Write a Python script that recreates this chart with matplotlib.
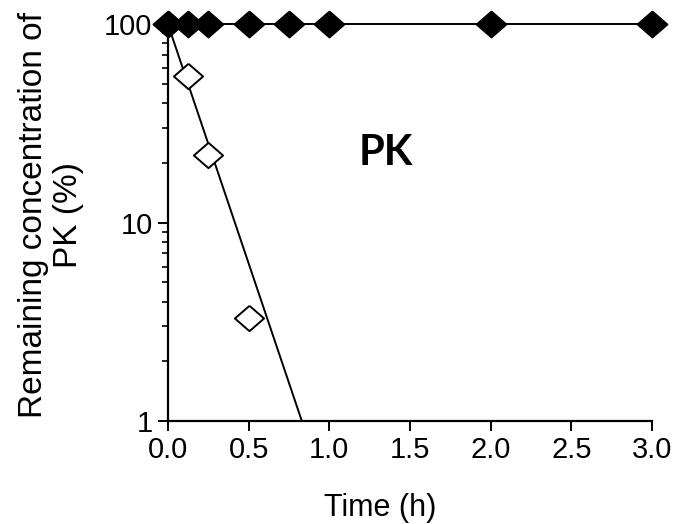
import numpy as np
import matplotlib
matplotlib.use("Agg")
import matplotlib.pyplot as plt
from matplotlib.ticker import FixedLocator, FixedFormatter, LogLocator, NullFormatter

# datos
time_filled = [0, 0.125, 0.25, 0.5, 0.75, 1.0, 2.0, 3.0]
conc_filled = [100, 100, 100, 100, 100, 100, 100, 100]

time_open = [0, 0.125, 0.25, 0.5]
conc_open = [100, 55, 22, 3.3]

# recta de ajuste (exponencial) de la serie abierta
fit_time = [0, 0.83]
fit_conc = [100, 1]

x_ticks = [0.0, 0.5, 1.0, 1.5, 2.0, 2.5, 3.0]
x_labels = ["0.0", "0.5", "1.0", "1.5", "2.0", "2.5", "3.0"]
y_ticks = [1, 10, 100]
y_labels = ["1", "10", "100"]

plt.rcParams["font.family"] = ["Liberation Sans", "DejaVu Sans"]

fig = plt.figure(figsize=(6.77, 5.24), dpi=100)
ax = fig.add_axes([0.248, 0.1966, 0.715, 0.7574])

# rombo algo mas ancho que alto
diamond = [(0, 0.87), (1, 0), (0, -0.87), (-1, 0), (0, 0.87)]

ax.plot(fit_time, fit_conc, color="black", lw=1.4, zorder=2)
ax.plot(time_open, conc_open, linestyle="none", marker=diamond, ms=21,
        mfc="white", mec="black", mew=1.4, zorder=3, clip_on=False)
ax.plot(time_filled, conc_filled, color="black", lw=1.4, marker=diamond,
        ms=22, mfc="black", mec="black", zorder=4, clip_on=False)

ax.set_yscale("log")
ax.set_xlim(0, 3)
ax.set_ylim(1, 100)

ax.xaxis.set_major_locator(FixedLocator(x_ticks))
ax.xaxis.set_major_formatter(FixedFormatter(x_labels))
ax.yaxis.set_major_locator(FixedLocator(y_ticks))
ax.yaxis.set_major_formatter(FixedFormatter(y_labels))
ax.yaxis.set_minor_locator(LogLocator(base=10, subs=np.arange(2, 10)))
ax.yaxis.set_minor_formatter(NullFormatter())

for side in ["top", "right"]:
    ax.spines[side].set_visible(False)
for side in ["left", "bottom"]:
    ax.spines[side].set_linewidth(1.6)

ax.tick_params(axis="both", which="major", direction="out", length=7,
               width=1.4, labelsize=21, pad=4)
ax.tick_params(axis="y", which="minor", direction="out", length=4, width=1.2)

ax.set_xlabel("Time (h)", fontsize=22)
ax.xaxis.set_label_coords(0.438, -0.181)
ax.set_ylabel("Remaining concentration of\nPK (%)", fontsize=24, linespacing=1.15)
ax.yaxis.set_label_coords(-0.174, 0.52)

ax.text(0.45, 0.645, "PK", transform=ax.transAxes, ha="center", va="baseline",
        fontsize=30, fontweight="bold", family=["Lato", "DejaVu Sans"])

fig.savefig("out.png", dpi=100)
